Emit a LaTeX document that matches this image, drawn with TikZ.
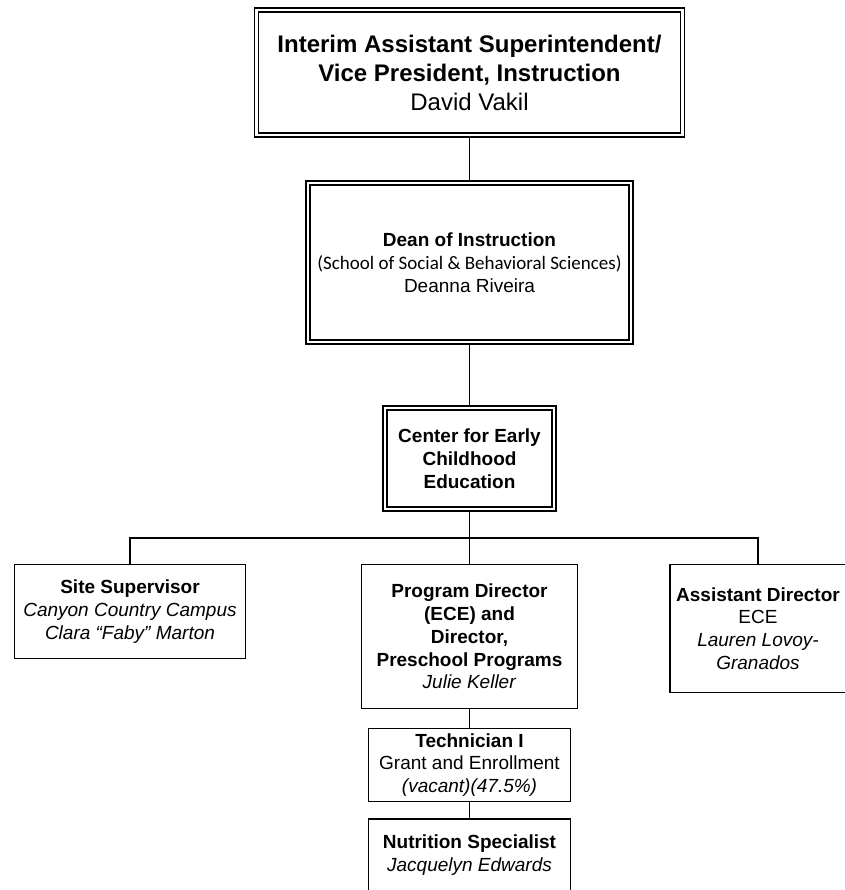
\documentclass[tikz,border=0pt]{standalone}
\usepackage{fontspec}
\setmainfont{Liberation Sans}
\newfontfamily\calibri{Carlito}
\newcommand\orgfont{\fontsize{19}{22.8}\selectfont}
\newcommand\topfont{\fontsize{24}{29}\selectfont}

\tikzset{
  box/.style={draw, line width=1.5pt, align=center, inner sep=0pt, font=\orgfont},
  dbox/.style={box, double, double distance=2.6pt, line width=1.5pt},
  link/.style={line width=1.6pt}
}

\begin{document}
\begin{tikzpicture}[x=1pt,y=-1pt]
\useasboundingbox (0,0) rectangle (844,890);

%centres
\def\mid{469.5}
\coordinate (T)  at (\mid,72.5);
\coordinate (D)  at (\mid,262.5);
\coordinate (C)  at (\mid,458.5);
\coordinate (P)  at (\mid,636.5);
\coordinate (S)  at (130,611.5);
\coordinate (A)  at (758,628.5);
\coordinate (K)  at (\mid,765);
\coordinate (N)  at (\mid,855);
\coordinate (bus) at (\mid,538);

%boxes
\node[dbox, minimum width=426, minimum height=125, font=\topfont] (vp) at (T)
  {\textbf{Interim Assistant Superintendent/}\\ \textbf{Vice President, Instruction}\\ David Vakil};
\node[dbox, minimum width=323, minimum height=159] (dean) at (D)
  {\textbf{Dean of Instruction}\\ {\calibri (School of Social \& Behavioral Sciences)}\\ Deanna Riveira};
\node[dbox, minimum width=169, minimum height=101] (ece) at (C)
  {\textbf{Center for Early}\\ \textbf{Childhood}\\ \textbf{Education}};
\node[box, minimum width=231, minimum height=94] (site) at (S)
  {\textbf{Site Supervisor}\\ \textit{Canyon Country Campus}\\ \textit{Clara “Faby” Marton}};
\node[box, minimum width=216, minimum height=144] (prog) at (P)
  {\textbf{Program Director}\\ \textbf{(ECE) and}\\ \textbf{Director,}\\ \textbf{Preschool Programs}\\ \textit{Julie Keller}};
\node[box, minimum width=176, minimum height=128] (asst) at (A)
  {\textbf{Assistant Director}\\ ECE\\ \textit{Lauren Lovoy-}\\ \textit{Granados}};
\node[box, minimum width=202, minimum height=73] (tech) at (K)
  {\textbf{Technician I}\\ Grant and Enrollment\\ \textit{(vacant)(47.5\%)}};
\node[box, minimum width=202, minimum height=72] (nutr) at (N)
  {\textbf{Nutrition Specialist}\\ \textit{Jacquelyn Edwards}};

%lines
\draw[link] (vp.south) -- (dean.north);
\draw[link] (dean.south) -- (ece.north);
\draw[link] (ece.south) -- (prog.north);
\draw[link] (site.north) |- (bus) -| (asst.north);
\draw[link] (prog.south) -- (tech.north);
\draw[link] (tech.south) -- (nutr.north);

\end{tikzpicture}
\end{document}
